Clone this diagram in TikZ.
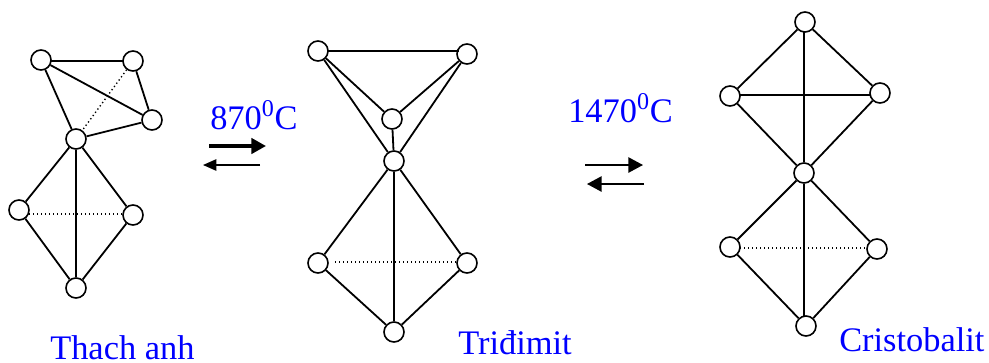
\documentclass[tikz,border=0pt]{standalone}
\usepackage{fontspec}
\setmainfont{Liberation Serif}
\usetikzlibrary{arrows.meta}
\definecolor{labelblue}{RGB}{0,0,255}
\tikzset{
  atom/.style={circle,draw=black,fill=white,line width=1.2pt,minimum size=15pt,inner sep=0pt},
  bond/.style={line width=1.35pt,black},
  hidden/.style={line width=1pt,black,dotted},
  lbl/.style={text=labelblue,font=\fontsize{25.8pt}{28pt}\selectfont,inner sep=0pt,anchor=base west},
  heavy/.style={line width=2.6pt,-{Triangle[length=11pt,width=11.5pt]}},
  light/.style={line width=1.2pt,-{Triangle[length=11pt,width=11.5pt]}},
  lightsmall/.style={line width=1.2pt,-{Triangle[length=10pt,width=8.5pt]}}
}
\begin{document}
\begin{tikzpicture}[x=0.75pt,y=-0.75pt]
\useasboundingbox (0,0) rectangle (989,362);
% Thach anh
\node[atom] (a1) at (41,60) {};
\node[atom] (a2) at (133,61) {};
\node[atom] (a3) at (152,120) {};
\node[atom] (a4) at (76,139) {};
\node[atom] (a5) at (19,210) {};
\node[atom] (a6) at (133,215) {};
\node[atom] (a7) at (76,288) {};
\foreach \p/\q in {a1/a3,a1/a4,a2/a3,a3/a4,a4/a5,a4/a6,a4/a7,a5/a7,a6/a7}
  \draw[bond] (\p) -- (\q);
\coordinate (a1r) at (50,61); \coordinate (a2l) at (123,61);
\draw[bond] (a1r) -- (a2l);
\draw[hidden] (a2) -- (a4);
\coordinate (a5r) at (29,214); \coordinate (a6l) at (123,214);
\draw[hidden] (a5r) -- (a6l);
% Tridimit
\node[atom] (b1) at (318,51) {};
\node[atom] (b2) at (467,54) {};
\node[atom] (b3) at (392,119) {};
\node[atom] (b4) at (394,161) {};
\node[atom] (b5) at (318,263) {};
\node[atom] (b6) at (467,263) {};
\node[atom] (b7) at (394,332) {};
\foreach \p/\q in {b1/b3,b2/b3,b1/b4,b2/b4,b3/b4,b4/b5,b4/b6,b4/b7,b5/b7,b6/b7}
  \draw[bond] (\p) -- (\q);
\coordinate (b1r) at (328,51); \coordinate (b2l) at (459,51);
\draw[bond] (b1r) -- (b2l);
\coordinate (b5r) at (335,262); \coordinate (b6l) at (457,262);
\draw[hidden] (b5r) -- (b6l);
% Cristobalit
\node[atom] (c1) at (805,22) {};
\node[atom] (c2) at (730,96) {};
\node[atom] (c3) at (880,93) {};
\node[atom] (c4) at (804,173) {};
\node[atom] (c5) at (730,247) {};
\node[atom] (c6) at (877,249) {};
\node[atom] (c7) at (806,326) {};
\coordinate (c1b) at (804,32); \coordinate (c7t) at (804,316);
\foreach \p/\q in {c1/c2,c1/c3,c2/c4,c3/c4,c4/c5,c4/c6,c5/c7,c6/c7}
  \draw[bond] (\p) -- (\q);
\draw[bond] (c1b) -- (c4);
\draw[bond] (c4) -- (c7t);
\coordinate (c2r) at (740,95); \coordinate (c3l) at (870,95);
\draw[bond] (c2r) -- (c3l);
\coordinate (c5r) at (740,248); \coordinate (c6l) at (867,248);
\draw[hidden] (c5r) -- (c6l);
% arrows
\coordinate (h1s) at (209,146); \coordinate (h1e) at (266,146);
\coordinate (h2s) at (260,165); \coordinate (h2e) at (203,165);
\coordinate (h3s) at (585,165); \coordinate (h3e) at (643,165);
\coordinate (h4s) at (644,184); \coordinate (h4e) at (587,184);
\draw[heavy] (h1s) -- (h1e);
\draw[lightsmall] (h2s) -- (h2e);
\draw[light] (h3s) -- (h3e);
\draw[light] (h4s) -- (h4e);
% labels
\node[lbl] (t1) at (50,359) {Thach anh};
\node[lbl] (t2) at (458,354) {Triđimit};
\node[lbl] (t3) at (839,351) {Cristobalit};
\node[lbl] (t4) at (210,129) {870\textsuperscript{0}C};
\node[lbl] (t5) at (568,122) {1470\textsuperscript{0}C};
\end{tikzpicture}
\end{document}
